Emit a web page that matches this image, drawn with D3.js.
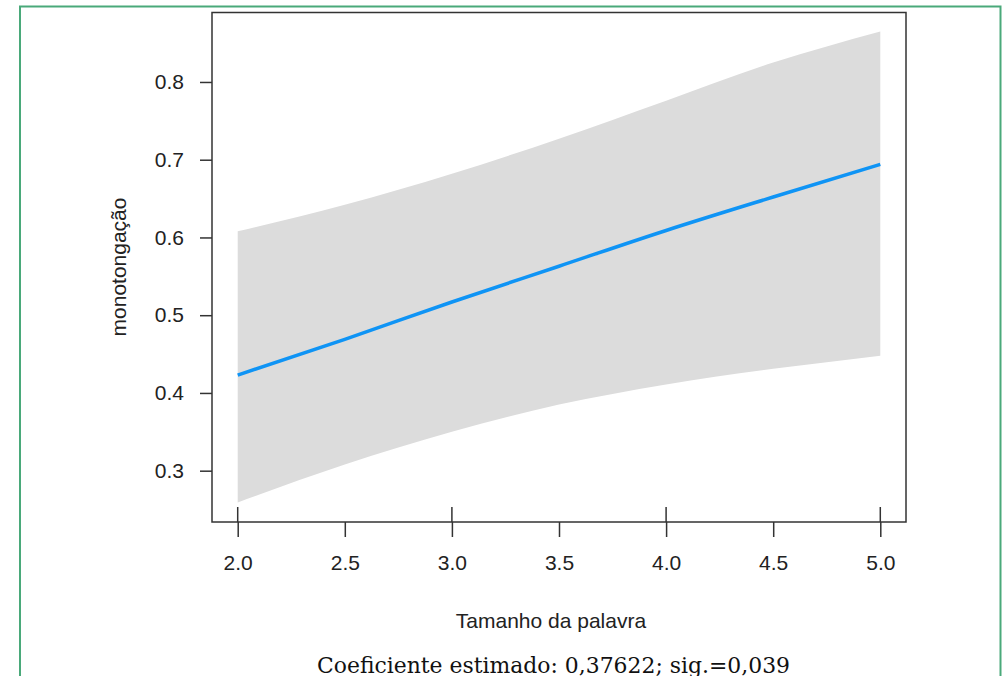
<!DOCTYPE html>
<html>
<head>
<meta charset="utf-8">
<script src="https://cdn.jsdelivr.net/npm/d3@7"></script>
<style>
  body { margin: 0; background: #fff; }
  svg { display: block; }
</style>
</head>
<body>
<div id="chart"></div>
<script>
// values
var xValues = [2.0, 2.5, 3.0, 3.5, 4.0, 4.5, 5.0];
var fitValues = [0.423, 0.469, 0.517, 0.563, 0.609, 0.652, 0.694];
var upperValues = [0.608, 0.642, 0.682, 0.727, 0.776, 0.825, 0.865];
var lowerValues = [0.259, 0.308, 0.350, 0.385, 0.411, 0.431, 0.448];
var rugValues = [2, 3, 4, 5];
var xTicks = [2.0, 2.5, 3.0, 3.5, 4.0, 4.5, 5.0];
var yTicks = [0.3, 0.4, 0.5, 0.6, 0.7, 0.8];

(function() {
    var width = 1008,
        height = 676;

    var svg = d3.select("#chart")
        .append("svg")
        .attr("width", width)
        .attr("height", height);

    // green frame around the figure
    svg.append("rect")
        .attr("x", 20)
        .attr("y", 6.5)
        .attr("width", 980.5)
        .attr("height", 700)
        .attr("fill", "none")
        .attr("stroke", "#4aa97a")
        .attr("stroke-width", 2);

    var x = d3.scaleLinear()
        .domain([1.88, 5.12])
        .range([212, 906]);

    var y = d3.scaleLinear()
        .domain([0.234, 0.890])
        .range([522, 12]);

    var rows = xValues.map(function(d, i) {
        return { x: d, fit: fitValues[i], lo: lowerValues[i], hi: upperValues[i] };
    });

    var band = d3.area()
        .x(function(d) { return x(d.x); })
        .y0(function(d) { return y(d.lo); })
        .y1(function(d) { return y(d.hi); })
        .curve(d3.curveMonotoneX);

    var line = d3.line()
        .x(function(d) { return x(d.x); })
        .y(function(d) { return y(d.fit); })
        .curve(d3.curveMonotoneX);

    svg.append("path")
        .datum(rows)
        .attr("d", band)
        .attr("fill", "#dcdcdc");

    svg.append("path")
        .datum(rows)
        .attr("d", line)
        .attr("fill", "none")
        .attr("stroke", "#0f94f5")
        .attr("stroke-width", 3.5);

    // rug marks at observed values
    svg.selectAll(".rug")
        .data(rugValues)
        .enter().append("line")
        .attr("class", "rug")
        .attr("x1", function(d) { return x(d); })
        .attr("x2", function(d) { return x(d); })
        .attr("y1", 507)
        .attr("y2", 522)
        .attr("stroke", "#333")
        .attr("stroke-width", 1.5);

    // plot box
    svg.append("rect")
        .attr("x", 212)
        .attr("y", 12.5)
        .attr("width", 694)
        .attr("height", 509.5)
        .attr("fill", "none")
        .attr("stroke", "#333")
        .attr("stroke-width", 1.5);

    var xAxis = svg.append("g")
        .attr("transform", "translate(0,522)")
        .call(d3.axisBottom(x)
            .tickValues(xTicks)
            .tickFormat(d3.format(".1f"))
            .tickSizeOuter(0)
            .tickSize(15)
            .tickPadding(18));

    var yAxis = svg.append("g")
        .attr("transform", "translate(212,0)")
        .call(d3.axisLeft(y)
            .tickValues(yTicks)
            .tickFormat(d3.format(".1f"))
            .tickSizeOuter(0)
            .tickSize(12)
            .tickPadding(16));

    [xAxis, yAxis].forEach(function(g) {
        g.select(".domain").remove();
        g.selectAll(".tick line")
            .attr("stroke", "#333")
            .attr("stroke-width", 1.5);
        g.selectAll(".tick text")
            .attr("fill", "#222")
            .style("font-family", "'Liberation Sans', Arial, sans-serif")
            .style("font-size", "21px");
    });

    svg.append("text")
        .attr("x", 551)
        .attr("y", 628)
        .attr("text-anchor", "middle")
        .attr("fill", "#222")
        .style("font-family", "'Liberation Sans', Arial, sans-serif")
        .style("font-size", "21px")
        .text("Tamanho da palavra");

    svg.append("text")
        .attr("transform", "translate(126,267) rotate(-90)")
        .attr("text-anchor", "middle")
        .attr("fill", "#222")
        .style("font-family", "'Liberation Sans', Arial, sans-serif")
        .style("font-size", "21px")
        .text("monotongação");

    svg.append("text")
        .attr("x", 317)
        .attr("y", 673)
        .attr("textLength", 473)
        .attr("lengthAdjust", "spacingAndGlyphs")
        .attr("fill", "#111")
        .style("font-family", "'DejaVu Serif', 'Liberation Serif', serif")
        .style("font-size", "22px")
        .text("Coeficiente estimado: 0,37622; sig.=0,039");
})();
</script>
</body>
</html>
